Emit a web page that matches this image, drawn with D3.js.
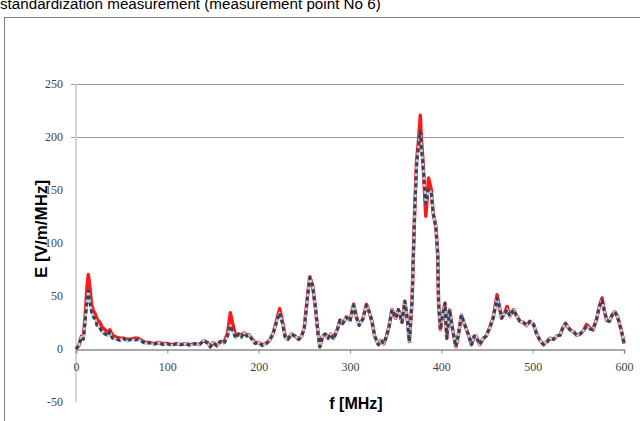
<!DOCTYPE html>
<html>
<head>
<meta charset="utf-8">
<script src="https://cdn.jsdelivr.net/npm/d3@7"></script>
<style>
  html, body { margin: 0; padding: 0; background: #fff; }
  svg { display: block; }
</style>
</head>
<body>
<div id="chart"></div>
<script>
// frequency points (MHz)
const freq = [0,3,6,8,10,12,13.5,15,17,19,21,23,26,29,32,35,37,40,44,48,52,56,60,64,68,72,76,80,85,90,95,100,105,110,115,120,125,130,135,140,144,147,150,154,158,162,166,169,172,175,178,181,184,187,190,193,196,200,204,208,212,216,220,223,226,229,232,236,240,244,247,250,253,256,259,262,265,267,270,273,276,279,282,286,289,292,296,300,304,307,310,314,318,321,324,327,331,334,337,340,343,346,350,353,357,360,363,365,368,369,371,373,375,377,378,380,383,386,389,391,394,396,397,399,401,404,406,409,413,416,419,422,425,429,433,436,438,442,446,449,453,457,461,464,466,469,472,475,479,482,486,490,493,497,501,504,508,512,516,519,523,526,530,533,536,539,541,545,548,552,556,559,563,566,570,573,576,578,581,584,587,590,593,595,598,600];
// measured field, averaged series (dark markers)
const eMeas = [0,3,11,9,25,45,55,45,35,30,28,22,20,15,14,12,16,10,9,8,10,7,9,8,9,7,5,6,4,6,4,5,3,5,4,5,3,5,4,8,5,2,6,3,7,5,12,22,16,10,14,11,15,12,13,8,5,6,3,5,8,15,26,34,24,11,9,14,12,9,12,20,45,67,60,40,15,2,12,14,10,14,9,18,27,24,30,26,41,30,22,28,41,35,26,12,4,8,5,12,22,37,29,37,25,45,26,7,46,75,133,174,190,205,190,172,137,150,147,128,115,90,43,18,30,43,10,37,15,2,15,32,24,15,4,12,12,4,10,12,20,30,48,38,29,33,37,31,37,32,26,25,22,26,23,15,8,4,7,10,9,12,13,20,24,20,18,16,13,14,18,21,19,18,28,40,46,38,27,26,32,35,30,24,14,6];
// second measurement (red)
const eRed = [0,3,12,10,30,58,70,60,42,36,33,28,25,20,18,15,18,13,11,10,10,9,9,10,10,8,6,6,5,6,5,5,4,5,4,5,4,5,4,8,6,2,6,3,7,6,15,34,22,12,14,13,15,13,13,9,6,6,4,5,8,15,28,38,26,12,9,14,12,9,12,20,46,68,60,40,15,2,12,14,10,14,10,18,27,24,30,27,42,30,23,28,42,35,26,12,4,8,5,12,22,37,29,37,25,45,26,7,46,78,136,178,196,220,200,175,125,161,150,128,115,90,43,18,30,43,10,37,15,2,15,32,24,15,4,12,12,4,10,12,20,30,51,38,29,33,40,31,37,32,26,25,22,26,23,15,8,4,7,10,9,12,13,20,24,20,18,16,13,14,18,23,19,18,28,40,48,38,27,26,32,35,30,24,14,5];

const xTicks = [0,100,200,300,400,500,600];
const yTicks = [-50,0,50,100,150,200,250];
const gridTicks = [200,250];

const width = 640, height = 421;
const svg = d3.select('#chart').append('svg')
    .attr('width', width).attr('height', height);

// title (cut off at the top in the original)
svg.append('text')
    .attr('x', 0).attr('y', 9)
    .style('font-family', 'Liberation Sans, Arial, sans-serif')
    .style('font-size', '15.2px').style('fill', '#000')
    .text('standardization measurement (measurement point No 6)');

// chart area border
svg.append('rect')
    .attr('x', 4.5).attr('y', 17.5).attr('width', 700).attr('height', 500)
    .attr('fill', 'none').attr('stroke', '#808080').attr('stroke-width', 1);

const x = d3.scaleLinear().domain([0, 600]).range([76, 624]);
const y = d3.scaleLinear().domain([-50, 250]).range([402, 83.5]);

// gridlines (only 200/250 visible in the source)
svg.append('g').selectAll('line').data(gridTicks).join('line')
    .attr('x1', 71).attr('x2', 624)
    .attr('y1', d => Math.round(y(d)) + 0.5).attr('y2', d => Math.round(y(d)) + 0.5)
    .attr('stroke', '#9a9a9a').attr('stroke-width', 1);

// y axis line
svg.append('line')
    .attr('x1', x(0)).attr('x2', x(0)).attr('y1', y(250)).attr('y2', y(-50))
    .attr('stroke', '#d4d4d4').attr('stroke-width', 2);

// y tick labels
svg.append('g').selectAll('text').data(yTicks).join('text')
    .attr('x', 63).attr('y', d => y(d) + 4)
    .attr('text-anchor', 'end')
    .style('font-family', 'Liberation Serif, serif')
    .style('font-size', '12px').style('fill', '#444')
    .text(d => d);

// x axis at zero
const xAxis = d3.axisBottom(x).tickValues(xTicks).tickSize(4).tickFormat(d => d);
const xg = svg.append('g').attr('transform', `translate(0,${Math.round(y(0)) + 0.5})`).call(xAxis);
xg.select('.domain').attr('stroke', '#8c8c8c').attr('stroke-width', 1.5);
xg.selectAll('.tick line').attr('stroke', '#8c8c8c');
xg.selectAll('.tick text')
    .attr('y', 13)
    .style('font-family', 'Liberation Serif, serif')
    .style('font-size', '12px').style('fill', '#444');

// axis titles
svg.append('text')
    .attr('transform', 'translate(47,229) rotate(-90)')
    .attr('text-anchor', 'middle')
    .style('font-family', 'Liberation Sans, Arial, sans-serif')
    .style('font-weight', 'bold').style('font-size', '17px').style('fill', '#000')
    .text('E [V/m/MHz]');
svg.append('text')
    .attr('x', 356).attr('y', 409)
    .attr('text-anchor', 'middle')
    .style('font-family', 'Liberation Sans, Arial, sans-serif')
    .style('font-weight', 'bold').style('font-size', '16px').style('fill', '#000')
    .text('f [MHz]');

// series
const lineRed = d3.line().x((d, i) => x(freq[i])).y(d => y(d));
svg.append('path').datum(eRed)
    .attr('d', lineRed)
    .attr('fill', 'none').attr('stroke', '#ff1a1a').attr('stroke-width', 3.5)
    .attr('stroke-linejoin', 'round');

svg.append('path').datum(eMeas)
    .attr('d', lineRed)
    .attr('fill', 'none').attr('stroke', '#b8cce8').attr('stroke-width', 2.5)
    .attr('stroke-linejoin', 'round');

svg.append('path').datum(eMeas)
    .attr('d', lineRed)
    .attr('fill', 'none').attr('stroke', '#3b4150').attr('stroke-width', 3)
    .attr('stroke-dasharray', '4,3')
    .attr('stroke-linejoin', 'round');
</script>
</body>
</html>
